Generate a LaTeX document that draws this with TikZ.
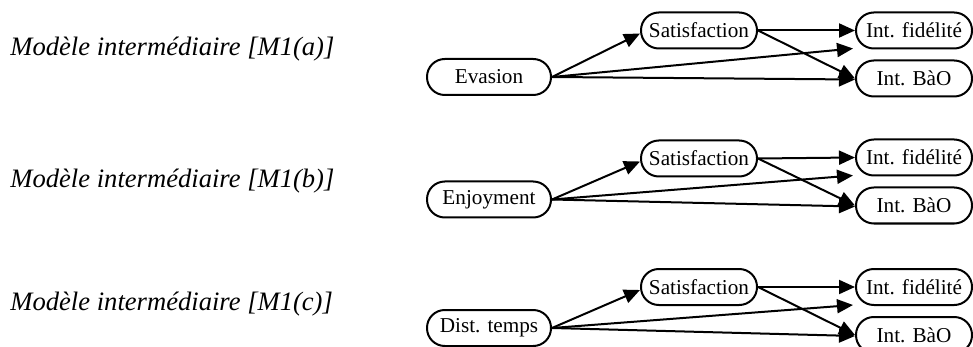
\documentclass[tikz,border=0pt]{standalone}
\usepackage{fontspec}
\setmainfont{Liberation Serif}
\usetikzlibrary{arrows.meta,calc}
\begin{document}
\begin{tikzpicture}[x=0.5pt,y=-0.5pt,
 box/.style={draw,line width=1pt,rounded corners=8.9pt,minimum width=58pt,minimum height=18pt,inner sep=0pt,font=\fontsize{10.6}{12}\selectfont},
 wide/.style={box,minimum width=62pt},
 lbl/.style={anchor=west,inner sep=0pt,font=\fontsize{13.3}{15}\selectfont\itshape},
 arr/.style={line width=1pt,-{Triangle[length=8pt,width=7pt]}}]
\useasboundingbox (0,0) rectangle (973,347);
% labels
\node[lbl] (la) at (10,49) {Modèle intermédiaire [M1(a)]};
\node[lbl] (lb) at (10,181) {Modèle intermédiaire [M1(b)]};
\node[lbl] (lc) at (10,304) {Modèle intermédiaire [M1(c)]};
% row 1
\node[wide] (e1) at (489,77) {Evasion};
\node[box] (s1) at (699,30.5) {Satisfaction};
\node[box] (f1) at (914,30.5) {Int. fidélité};
\node[box] (b1) at (914,78.5) {Int. BàO};
% row 2
\node[wide] (e2) at (489,199.5) {Enjoyment};
\node[box] (s2) at (699,158.5) {Satisfaction};
\node[box] (f2) at (914,157.5) {Int. fidélité};
\node[box] (b2) at (914,205.5) {Int. BàO};
% row 3
\node[wide] (e3) at (489,328) {Dist. temps};
\node[box] (s3) at (699,287) {Satisfaction};
\node[box] (f3) at (914,287) {Int. fidélité};
\node[box] (b3) at (914,335) {Int. BàO};
% connectors
\foreach \r in {1,2,3}{
  \coordinate (t\r) at ($(f\r.west)+(-2,18)$);
  \draw[arr] (e\r.east) -- ($(s\r.west)+(0,3)$);
  \draw[arr] (s\r.east) -- (f\r.west);
  \draw[arr] (s\r.east) -- (b\r.west);
  \draw[arr] (e\r.east) -- (t\r);
  \draw[arr] (e\r.east) -- ($(b\r.west)+(0,1)$);
}
\end{tikzpicture}
\end{document}
